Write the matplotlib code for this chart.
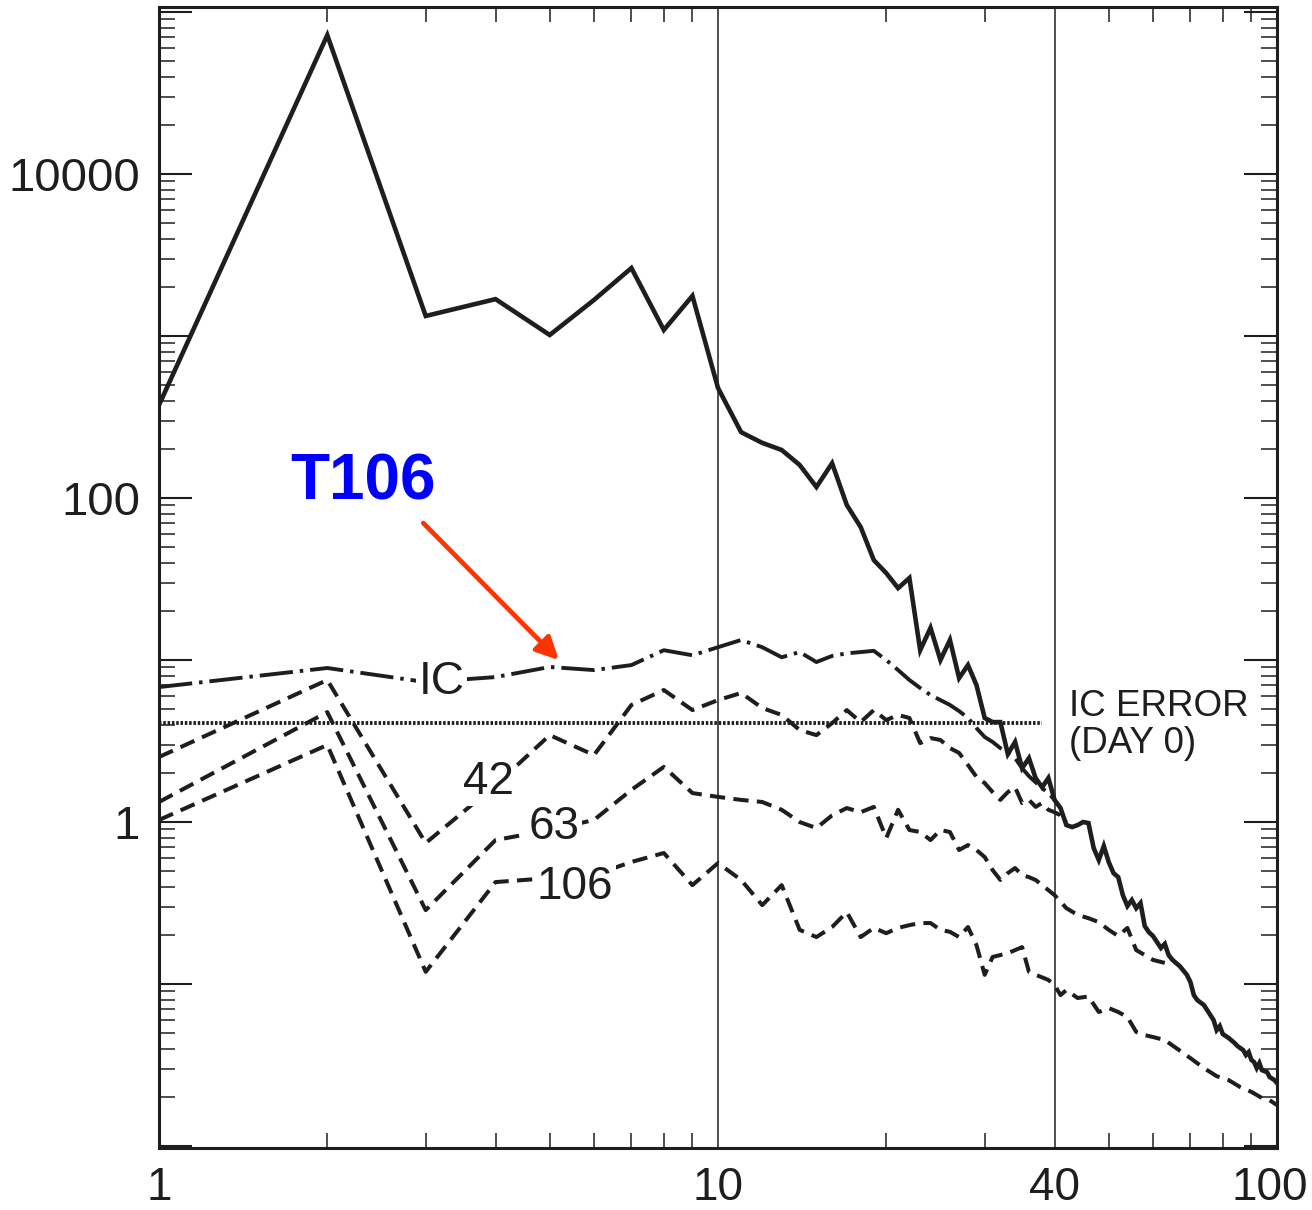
import matplotlib
matplotlib.use("Agg")
import matplotlib.pyplot as plt
from matplotlib.ticker import FixedLocator, FuncFormatter, NullFormatter
from matplotlib.transforms import ScaledTranslation

plt.rcParams['font.family'] = ['Liberation Sans', 'DejaVu Sans']
plt.rcParams['lines.scale_dashes'] = False

# ---------------- data ----------------
# solid line (full spectrum)
solid_n = [1, 2, 3, 4, 5, 6, 7, 8, 9, 10, 11, 12, 13, 14, 15, 16, 17, 18, 19, 20,
           21, 22, 23, 24, 25, 26, 27, 28, 29, 30, 31, 32, 33, 34, 35, 36, 37, 38, 39, 40,
           41, 42, 43, 44, 45, 46, 47, 48, 49, 50, 51, 52, 53, 54, 55, 56, 57, 58, 59, 60,
           62, 63, 64, 65, 67, 69, 70, 71, 72, 74, 75, 77, 78, 79, 80, 82, 84, 85, 87, 88,
           89, 90, 91, 92, 93, 94, 96, 97, 99, 100]
solid_v = [375, 72000, 1330, 1690, 1015, 1670, 2630, 1090, 1770, 478, 255, 219, 198, 160, 117,
           164, 90.5, 66.2, 41.4, 34.4, 27.8, 32.1, 11.5, 15.8, 10.0, 13.3, 7.74, 9.31, 7.01, 4.39,
           4.14, 4.14, 2.63, 3.12, 2.15, 2.48, 1.87, 1.64, 1.87, 1.37,
           1.22, 0.958, 0.931, 0.958, 1.0, 0.986, 0.691, 0.583, 0.711, 0.567,
           0.484, 0.457, 0.354, 0.303, 0.330, 0.294, 0.316, 0.228, 0.209, 0.198,
           0.167, 0.177, 0.151, 0.141, 0.129, 0.114, 0.103, 0.0855, 0.0797, 0.0742,
           0.0691, 0.060, 0.052, 0.055, 0.0491, 0.0464, 0.0432, 0.0414, 0.0391, 0.0365,
           0.038, 0.034, 0.033, 0.0303, 0.0325, 0.0294, 0.0286, 0.0267, 0.0255, 0.0245]

# IC (dash-dot)
ic_n = list(range(1, 41))
ic_v = [6.81, 8.93, 7.31, 7.85, 9.06, 8.67, 9.31, 11.5, 10.7, 12.0,
        13.3, 12.0, 10.4, 11.2, 9.72, 10.6, 11.0, 11.2, 11.4, 10.0,
        8.67, 7.53, 6.72, 6.08, 5.66, 5.28, 4.84, 4.39, 3.80, 3.35,
        3.12, 2.86, 2.67, 2.48, 2.15, 1.92, 1.76, 1.62, 1.51, 1.37]

# T42 (dashed)
t42_n = list(range(1, 43))
t42_v = [2.52, 7.53, 0.742, 1.69, 3.44, 2.59, 5.28, 6.53, 4.91, 5.66,
         6.26, 5.06, 4.58, 3.70, 3.44, 4.08, 4.91, 4.14, 4.91, 4.26,
         4.58, 4.39, 3.07, 3.30, 3.21, 2.86, 2.67, 2.25, 1.90, 1.74,
         1.53, 1.37, 1.53, 1.64, 1.31, 1.37, 1.24, 1.31, 1.19, 1.15,
         1.10, 1.0]

# T63 (dashed)
t63_n = list(range(1, 41)) + [42, 44, 46, 48, 50, 52, 54, 56, 58, 60, 63]
t63_v = [1.33, 4.77, 0.286, 0.774, 0.893, 1.03, 1.58, 2.19, 1.51, 1.43,
         1.37, 1.33, 1.19, 1.0, 0.918, 1.10, 1.22, 1.15, 1.24, 0.797,
         1.19, 0.893, 0.868, 0.774, 0.893, 0.868, 0.672, 0.721, 0.672, 0.608,
         0.505, 0.439, 0.484, 0.520, 0.471, 0.457, 0.439, 0.408, 0.380, 0.354,
         0.294, 0.267, 0.255, 0.241, 0.216, 0.198, 0.222, 0.162, 0.151, 0.141, 0.135]

# T106 (dashed)
t106_n = list(range(1, 43)) + [44, 46, 48, 50, 52, 54, 56, 58, 60, 63, 66, 70, 74, 78,
                               82, 86, 90, 94, 97, 100]
t106_v = [1.03, 2.99, 0.119, 0.426, 0.451, 0.471, 0.567, 0.644, 0.408, 0.558,
          0.439, 0.307, 0.408, 0.216, 0.195, 0.225, 0.278, 0.195, 0.222, 0.206,
          0.222, 0.231, 0.238, 0.238, 0.216, 0.210, 0.195, 0.225, 0.174, 0.114,
          0.147, 0.151, 0.155, 0.162, 0.169, 0.119, 0.114, 0.110, 0.106, 0.0986,
          0.0855, 0.0918, 0.082, 0.0838, 0.0672, 0.0711, 0.0672, 0.0626, 0.0506, 0.0484,
          0.0471, 0.0451, 0.0403, 0.0349, 0.0303, 0.0270, 0.0255, 0.0231, 0.0216, 0.0198,
          0.0192, 0.0179]

# IC error at day 0 (dotted)
ic0_n = [1, 38]
ic0_v = [4.08, 4.08]

xtick_vals = [1, 10, 40, 100]
xtick_labels = ['1', '10', '40', '100']
xminor_vals = [2, 3, 4, 5, 6, 7, 8, 9, 20, 30, 50, 60, 70, 80, 90]
vlines_x = [10, 40]
ylabel_vals = [1, 100, 10000]

# ---------------- figure ----------------
fig = plt.figure(figsize=(13.12, 12.10), dpi=100)
ax = fig.add_axes([0.1212, 0.0512, 0.8521, 0.9430])
ax.set_xscale('log')
ax.set_yscale('log')
ax.set_xlim(1, 100)
ax.set_ylim(0.00972, 1.074e5)

ink = '#1e1e1e'
for xv in vlines_x:
    ax.axvline(xv, color=ink, lw=1.1, zorder=1)

ax.plot(ic0_n, ic0_v, color=ink, lw=2.8, linestyle=(0, (1.8, 1.3)), zorder=2)
ax.plot(solid_n, solid_v, color=ink, lw=3.3, solid_joinstyle='miter', zorder=5)
ax.plot(ic_n, ic_v, color=ink, lw=2.8, linestyle=(0, (24, 5, 2.5, 5)), zorder=4)
for n, v in ((t42_n, t42_v), (t63_n, t63_v), (t106_n, t106_v)):
    ax.plot(n, v, color=ink, lw=2.9, linestyle=(0, (11, 6)), zorder=4)

# labels on curves
lab_kw = dict(fontsize=33, ha='center', va='center', color=ink, zorder=6,
              bbox=dict(facecolor='white', edgecolor='none', pad=1.5))
ax.text(3.2, 7.31, 'IC', **lab_kw)
ax.text(3.88, 1.77, '42', **lab_kw)
ax.text(5.10, 0.93, '63', **lab_kw)
ax.text(5.55, 0.397, '106', **lab_kw)

ax.text(42.5, 3.97, 'IC ERROR\n(DAY 0)', fontsize=26.5, ha='left', va='center',
        color=ink, linespacing=1.05, zorder=6)

ax.text(2.32, 124, 'T106', color='#0000ff', fontsize=46, fontweight='bold',
        ha='center', va='center', zorder=7)
ax.annotate('', xy=(5.19, 10.0), xytext=(2.97, 70.1),
            arrowprops=dict(arrowstyle='-|>', color='#ff3300', lw=3.4,
                            mutation_scale=34, shrinkA=0, shrinkB=0), zorder=7)

# ---------------- axes styling ----------------
for sp in ax.spines.values():
    sp.set_linewidth(2.2)
    sp.set_color(ink)

ax.xaxis.set_major_locator(FixedLocator(xtick_vals))
ax.xaxis.set_major_formatter(FuncFormatter(
    lambda v, p: xtick_labels[xtick_vals.index(round(v))] if round(v) in xtick_vals else ''))
ax.xaxis.set_minor_locator(FixedLocator(xminor_vals))
ax.xaxis.set_minor_formatter(NullFormatter())
ax.tick_params(axis='x', which='major', length=0, labelsize=33, pad=13,
               labelcolor=ink)
ax.tick_params(axis='x', which='minor', direction='in', length=10.8, width=1.1,
               top=True, bottom=True, color=ink)

ymaj = [10.0 ** k for k in range(-2, 6)]
ymin = [m * 10.0 ** k for k in range(-3, 6) for m in range(2, 10)]
ax.yaxis.set_major_locator(FixedLocator(ymaj))
ax.yaxis.set_major_formatter(FuncFormatter(
    lambda v, p: ('%d' % round(v)) if any(abs(v - t) < 1e-6 * t for t in ylabel_vals) else ''))
ax.yaxis.set_minor_locator(FixedLocator(ymin))
ax.yaxis.set_minor_formatter(NullFormatter())
ax.tick_params(axis='y', which='major', direction='in', length=23.8, width=1.5,
               left=True, right=True, labelsize=34, pad=13.7, color=ink, labelcolor=ink)
ax.tick_params(axis='y', which='minor', direction='in', length=11.5, width=1.1,
               left=True, right=True, color=ink)

# keep the right-most x label inside the figure
fig.canvas.draw()
last_tick = ax.xaxis.get_major_ticks()[-1]
last_tick.label1.set_transform(last_tick.label1.get_transform()
                               + ScaledTranslation(-0.07, 0, fig.dpi_scale_trans))

fig.savefig('out.png', dpi=100, facecolor='white')
